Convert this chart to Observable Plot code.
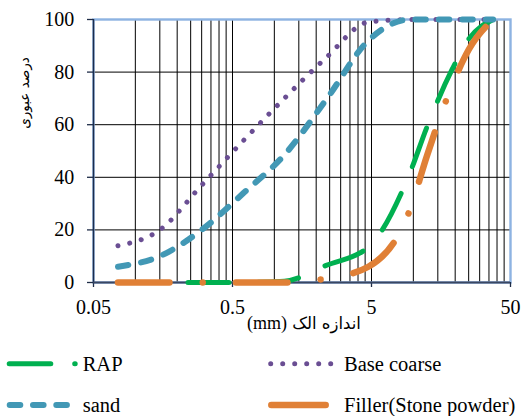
<!DOCTYPE html>
<html><head><meta charset="utf-8">
<script src="https://cdn.jsdelivr.net/npm/d3@7"></script>
<script src="https://cdn.jsdelivr.net/npm/@observablehq/plot@0.6"></script>
<style>
html,body{margin:0;padding:0;background:#fff;}
#wrap{position:relative;width:532px;height:416px;overflow:hidden;background:#fff;}
#wrap svg{display:block;}
#legend{position:absolute;left:0;top:336px;}
</style></head><body><div id="wrap"></div>
<script>
// sieve sizes (mm)
const sieves = [0.075, 0.15, 0.3, 0.6, 1.18, 2.36, 4.75, 9.5, 12.5, 19, 25, 37.5];
// percent passing
const rap        = [0, 0, 0, 0, 0.5, 6.5, 13.5, 42, 59, 81, 92.5, 100];
const baseCoarse = [14, 20, 37, 54, 70, 85.5, 99, 100, 100, 100, 100, 100];
const sand       = [6, 10, 20, 34, 48.5, 69.5, 92, 100, 100, 100, 100, 100];
const filler     = [0, 0, 0, 0, 0, 1.5, 6, 28, 48, 75, 88.5, 100];
const seriesNames = ["RAP", "Base coarse", "sand", "Filler(Stone powder)"];
const xTicks = [0.05, 0.5, 5, 50];
const yTicks = [0, 20, 40, 60, 80, 100];
const xGrid = [0.1,0.15,0.2,0.25,0.3,0.35,0.4,0.45,0.5,1,1.5,2,2.5,3,3.5,4,4.5,5,10,15,20,25,30,35,40,45];
const yGrid = [20, 40, 60, 80];
const xTitleUnit = "(mm)";
const xTitleFa = " اندازه الک";
const yTitle = "درصد عبوری";

const SERIF = "'Liberation Serif','Times New Roman','DejaVu Serif',serif";
const rows = sieves.map((s, i) => ({s, rap: rap[i], bc: baseCoarse[i], sand: sand[i], filler: filler[i]}));
const common = {x: "s", curve: "monotone-x", strokeLinecap: "round", strokeLinejoin: "round"};
const fmt = d => String(d);
const AXIS = "#1f2d48";

const chart = Plot.plot({
  width: 532, height: 336,
  marginLeft: 93, marginRight: 22, marginTop: 19, marginBottom: 54,
  style: {fontFamily: SERIF, fontSize: "20px", color: "#000", background: "transparent", overflow: "visible"},
  x: {type: "log", domain: [0.05, 50], axis: null},
  y: {domain: [0, 100], axis: null},
  marks: [
    Plot.ruleX(xGrid, {stroke: "#000", strokeWidth: 1}),
    Plot.ruleY(yGrid, {stroke: "#000", strokeWidth: 1}),
    Plot.frame({stroke: "#8db3e2", strokeWidth: 2.4}),
    // axis ticks
    Plot.ruleX(xTicks, {x: d => d, y1: 0, y2: 0, insetBottom: -5, stroke: AXIS, strokeWidth: 1.3}),
    Plot.ruleY(yTicks, {y: d => d, x1: 0.05, x2: 0.05, insetLeft: -6, stroke: AXIS, strokeWidth: 1.3}),
    // axis lines
    Plot.ruleX([0.05], {stroke: "#1c2d4d", strokeWidth: 1.5}),
    Plot.ruleY([0], {stroke: "#3a4762", strokeWidth: 2}),
    // tick labels
    Plot.text(xTicks, {x: d => d, y: () => 0, text: fmt, dy: 25.5, fontSize: 20, fontFamily: SERIF, fill: "#000", textAnchor: "middle"}),
    Plot.text(yTicks, {x: () => 0.05, y: d => d, text: fmt, dx: -19.3, fontSize: 20, fontFamily: SERIF, fill: "#000", textAnchor: "end"}),
    // series
    Plot.line(rows, {...common, y: "rap", stroke: "#00b050", strokeWidth: 5, strokeDasharray: "41,29"}),
    Plot.line(rows, {...common, y: "bc", stroke: "#6a4e93", strokeWidth: 5, strokeDasharray: "0.01,12"}),
    Plot.line(rows, {...common, y: "sand", stroke: "#4298b5", strokeWidth: 6, strokeDasharray: "10.5,13"}),
    Plot.line(rows, {...common, y: "filler", stroke: "#e08036", strokeWidth: 6.5, strokeDasharray: "51.5,33.25,0.01,33.25"})
  ]
});
document.getElementById("wrap").appendChild(chart);

const svg = d3.select(chart);
svg.append("text")
  .attr("transform", "translate(29,93) rotate(-90)")
  .attr("text-anchor", "middle")
  .attr("font-family", "DejaVu Sans")
  .attr("font-size", 13.5)
  .style("font-family", "'DejaVu Sans'")
  .style("font-size", "13.5px")
  .attr("fill", "#000")
  .text(yTitle);
const xt = svg.append("text").attr("x", 247).attr("y", 329).attr("fill", "#000")
  .attr("direction", "ltr").attr("text-anchor", "start");
xt.append("tspan").attr("font-family", SERIF).attr("font-size", 18)
  .style("font-family", SERIF).style("font-size", "18px").text(xTitleUnit);
xt.append("tspan").attr("font-family", "DejaVu Sans").attr("font-size", 16.5)
  .style("font-family", "'DejaVu Sans'").style("font-size", "16.5px").text(xTitleFa);

// legend
const colors = ["#00b050", "#6a4e93", "#4298b5", "#e08036"];
const lg = d3.select("#wrap").append("svg").attr("id", "legend").attr("width", 532).attr("height", 80);
const items = [
  {x1: 9.2, x2: 75.2, y: 27.7, w: 5, dash: "41.6,23.9", tx: 82.7, ty: 34.7},
  {x1: 270.7, x2: 331, y: 27.7, w: 5, dash: "0.01,11.99", tx: 344, ty: 34.7},
  {x1: 9.7, x2: 67.7, y: 69, w: 6, dash: "10.6,12.7", tx: 82.7, ty: 75.5},
  {x1: 271.3, x2: 325.7, y: 69, w: 6.5, dash: null, tx: 344, ty: 75.5}
];
items.forEach((it, i) => {
  const l = lg.append("line").attr("x1", it.x1).attr("x2", it.x2).attr("y1", it.y).attr("y2", it.y)
    .attr("stroke", colors[i]).attr("stroke-width", it.w).attr("stroke-linecap", "round");
  if (it.dash) l.attr("stroke-dasharray", it.dash);
  lg.append("text").attr("x", it.tx).attr("y", it.ty).attr("text-anchor", "start")
    .attr("font-family", SERIF).attr("font-size", 20.5)
    .style("font-family", SERIF).style("font-size", "20.5px")
    .attr("fill", "#000").text(seriesNames[i]);
});
</script></body></html>
